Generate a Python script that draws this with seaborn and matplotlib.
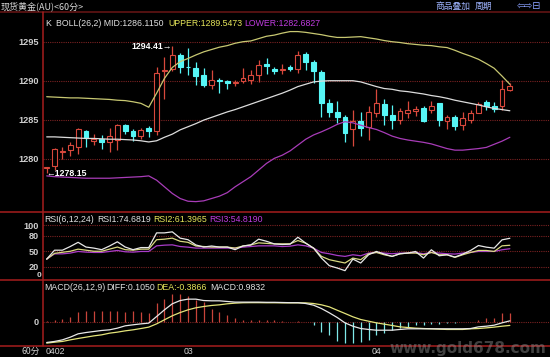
import numpy as np
import pandas as pd
import seaborn as sns
import matplotlib
matplotlib.use("Agg")
import matplotlib.pyplot as plt
from matplotlib.lines import Line2D
import matplotlib.transforms as mtransforms

# ---------------- data ----------------
idx = list(range(1, 61))
opens = [1278.8, 1279.06, 1280.8, 1281.1, 1281.54, 1283.6, 1282.3, 1282.55, 1282.2, 1282.4,
         1284.3, 1283.6, 1282.9, 1283.95, 1283.5, 1291.2, 1291.45, 1293.3, 1291.8, 1291.6,
         1290.7, 1289.4, 1290.1, 1290.0, 1289.7, 1290.0, 1290.1, 1290.7, 1292.2, 1291.5,
         1291.4, 1291.8, 1291.45, 1293.4, 1292.4, 1291.15, 1287.2, 1286.0, 1285.3, 1283.8,
         1284.9, 1284.1, 1285.9, 1287.0, 1285.6, 1285.0, 1285.9, 1286.15, 1286.45, 1286.25,
         1287.1, 1284.9, 1285.3, 1284.3, 1285.0, 1285.9, 1287.25, 1286.75, 1286.75, 1288.8]
highs = [1279.0, 1281.4, 1281.5, 1282.2, 1283.9, 1283.7, 1283.2, 1283.0, 1283.9, 1284.4,
         1284.5, 1283.8, 1284.0, 1284.2, 1291.7, 1293.1, 1294.41, 1293.5, 1294.2, 1292.4,
         1291.6, 1291.4, 1290.3, 1290.1, 1290.1, 1291.6, 1291.4, 1292.7, 1292.9, 1291.8,
         1292.1, 1292.0, 1293.85, 1293.7, 1292.6, 1291.4, 1287.7, 1287.4, 1285.6, 1286.2,
         1286.0, 1286.75, 1288.9, 1287.6, 1286.9, 1286.45, 1287.4, 1286.75, 1286.7, 1287.4,
         1287.1, 1285.6, 1285.6, 1286.0, 1286.2, 1287.3, 1287.5, 1287.25, 1290.1, 1289.65]
lows = [1278.15, 1278.5, 1280.0, 1280.3, 1280.6, 1281.5, 1281.8, 1281.3, 1280.9, 1281.1,
        1283.2, 1282.3, 1282.5, 1282.8, 1283.0, 1287.7, 1291.2, 1291.0, 1290.7, 1289.4,
        1289.2, 1288.9, 1288.4, 1289.0, 1289.3, 1289.7, 1289.6, 1289.9, 1290.9, 1290.9,
        1290.9, 1291.2, 1291.0, 1291.4, 1289.7, 1285.3, 1285.3, 1284.6, 1282.1, 1281.6,
        1282.9, 1282.4, 1285.4, 1284.3, 1283.8, 1284.4, 1285.2, 1285.5, 1284.7, 1285.8,
        1284.2, 1283.8, 1283.7, 1283.7, 1284.6, 1285.85, 1286.3, 1286.0, 1286.3, 1288.7]
closes = [1278.9, 1281.24, 1281.0, 1281.75, 1283.76, 1282.6, 1282.5, 1282.2, 1282.9, 1284.3,
          1283.5, 1282.9, 1283.7, 1283.5, 1291.0, 1291.4, 1293.3, 1291.8, 1291.7, 1290.6,
          1289.4, 1290.1, 1290.0, 1289.7, 1289.8, 1290.4, 1290.7, 1292.0, 1291.9, 1291.2,
          1291.5, 1291.5, 1293.3, 1292.4, 1291.3, 1287.2, 1286.0, 1285.3, 1283.25, 1284.9,
          1283.9, 1286.0, 1287.1, 1285.6, 1285.0, 1286.1, 1286.25, 1286.4, 1284.9, 1286.75,
          1285.0, 1285.3, 1284.2, 1285.2, 1285.8, 1287.0, 1286.7, 1286.4, 1288.9, 1289.3]

boll_upper = [1287.95, 1287.9, 1287.85, 1287.8, 1287.8, 1287.75, 1287.7, 1287.65, 1287.6, 1287.5,
              1287.45, 1287.3, 1287.1, 1286.6, 1288.4, 1290.3, 1291.7, 1292.45, 1292.85, 1293.3,
              1293.7, 1294.0, 1294.3, 1294.5, 1294.8, 1295.0, 1295.1, 1295.4, 1295.7, 1295.85,
              1296.1, 1296.3, 1296.3, 1296.2, 1296.05, 1295.9, 1295.7, 1295.55, 1295.55, 1295.6,
              1295.65, 1295.5, 1295.35, 1295.15, 1295.0, 1294.9, 1294.75, 1294.65, 1294.55, 1294.5,
              1294.35, 1294.25, 1293.9, 1293.5, 1293.15, 1292.75, 1292.2, 1291.6, 1290.6, 1289.55]
boll_mid = [1282.8, 1282.8, 1282.75, 1282.7, 1282.65, 1282.6, 1282.6, 1282.55, 1282.5, 1282.5,
            1282.45, 1282.4, 1282.3, 1282.15, 1282.3, 1282.75, 1283.15, 1283.7, 1284.1, 1284.5,
            1284.95, 1285.3, 1285.65, 1286.0, 1286.3, 1286.65, 1287.0, 1287.35, 1287.7, 1288.05,
            1288.4, 1288.8, 1289.25, 1289.55, 1289.85, 1289.95, 1290.0, 1290.0, 1290.0, 1290.0,
            1289.85, 1289.55, 1289.25, 1289.0, 1288.9, 1288.7, 1288.6, 1288.45, 1288.3, 1288.1,
            1287.95, 1287.75, 1287.5, 1287.3, 1287.1, 1286.9, 1286.65, 1286.45, 1286.3, 1286.15]
boll_lower = [1277.8, 1277.7, 1277.65, 1277.6, 1277.55, 1277.5, 1277.5, 1277.5, 1277.5, 1277.55,
              1277.6, 1277.65, 1277.7, 1277.8, 1277.25, 1276.4, 1275.55, 1274.9, 1274.55, 1274.5,
              1274.6, 1274.9, 1275.2, 1275.65, 1276.4, 1277.05, 1277.7, 1278.55, 1279.4, 1280.05,
              1280.45, 1281.0, 1281.75, 1282.5, 1283.05, 1283.45, 1283.9, 1284.4, 1284.75, 1284.6,
              1284.3, 1284.0, 1283.75, 1283.35, 1282.9, 1282.6, 1282.4, 1282.25, 1282.1, 1281.9,
              1281.6, 1281.3, 1281.1, 1281.1, 1281.2, 1281.3, 1281.45, 1281.85, 1282.25, 1282.75]

rsi1 = [35, 52, 52, 59, 67, 58, 56, 53, 60, 68, 58, 53, 57, 57, 85, 85, 87, 75, 72, 62,
        58, 60, 58, 58, 53, 60, 62, 73, 69, 64, 62.8, 63.5, 76.7, 65.4, 55.9, 37, 22.5, 18.1, 13, 35.1,
        27.6, 43.3, 49.6, 44.6, 40.2, 45.2, 46.5, 49.6, 37, 52.8, 41.4, 43.3, 38.9, 44.6, 51.5, 60.9,
        57.8, 55.9, 71.7, 74.7]
rsi2 = [35, 46, 48, 50, 54, 52, 50, 50, 54, 58, 53, 52, 54, 54, 72, 73, 75, 69, 67, 60,
        59, 58, 58, 58, 56, 60, 62, 66, 65, 64, 64.1, 64.1, 70.4, 65.4, 55.9, 40.2, 33.9, 30.7, 27.6, 37,
        33.9, 45.2, 47.7, 43.3, 40.2, 45.2, 46.5, 46.5, 43.3, 47.7, 43.3, 43.3, 38.3, 43.3, 47.7, 51.5,
        51.5, 49.6, 60.3, 61.4]
rsi3 = [35, 45, 45, 46.5, 49.6, 48.3, 47.7, 47.7, 49.6, 51.5, 49, 48.3, 49.6, 49.6, 60.3, 61.6, 62.2,
        59, 57.8, 56, 56, 56, 56, 56, 56, 57.8, 59, 60.3, 60.3, 60.3, 59, 59.7, 62.2, 60.3, 55.9, 47.7,
        45.2, 42, 40.2, 43.3, 41.4, 46.5, 47.7, 46.5, 45.2, 46.5, 46.5, 47.7, 45.2, 47.7, 46.5, 45.2,
        44.6, 46.5, 47.7, 49.6, 49.6, 49.6, 52.8, 54.8]

macd_diff = [-2.22, -2.11, -1.94, -1.65, -1.29, -1.15, -1.04, -0.93, -0.86, -0.68,
             -0.43, -0.32, -0.22, -0.14, 0.57, 1.29, 1.94, 2.29, 2.44, 2.44,
             2.29, 2.26, 2.26, 2.19, 2.12, 2.12, 2.12, 2.12, 2.1, 2.1,
             2.08, 2.06, 2.06, 1.97, 1.79, 1.43, 0.97, 0.47, -0.11, -0.47,
             -0.72, -0.82, -0.90, -0.90, -0.90, -0.82, -0.75, -0.75, -0.75, -0.75,
             -0.75, -0.75, -0.75, -0.75, -0.72, -0.54, -0.47, -0.36, -0.11, 0.105]
macd_dea = [-2.29, -2.19, -2.11, -1.94, -1.79, -1.65, -1.51, -1.40, -1.22, -1.11,
            -0.97, -0.86, -0.72, -0.57, -0.22, 0.22, 0.65, 1.0, 1.29, 1.51,
            1.65, 1.76, 1.83, 1.94, 2.01, 2.05, 2.06, 2.06, 2.05, 2.05,
            2.04, 2.04, 2.04, 2.04, 1.97, 1.83, 1.61, 1.25, 0.90, 0.54,
            0.25, 0.07, -0.11, -0.25, -0.39, -0.54, -0.61, -0.68, -0.72, -0.75,
            -0.79, -0.82, -0.82, -0.82, -0.75, -0.72, -0.65, -0.57, -0.47, -0.387]
macd_hist = [0.05, 0.15, 0.3, 0.55, 1.1, 1.2, 1.2, 1.2, 1.2, 1.2,
             1.1, 1.2, 1.1, 1.0, 2.0, 2.5, 3.0, 3.0, 2.8, 2.4,
             2.1, 1.4, 1.1, 0.75, 0.4, 0.2, 0.15, 0.2, 0.15, 0.15,
             0.05, 0.03, 0.05, -0.02, -0.35, -1.1, -1.45, -2.05, -2.3, -2.3,
             -2.15, -2.0, -1.45, -1.25, -0.9, -0.7, -0.55, -0.35, -0.3, -0.2,
             -0.2, -0.1, -0.1, -0.05, 0.0, 0.25, 0.45, 0.45, 0.9, 0.98]

price_ticks = [1280, 1285, 1290, 1295]
rsi_ticks = [20, 50, 80, 100]
date_labels = ["0402", "03", "04"]
date_pos = [1, 19, 43]

# ---------------- style ----------------
sns.set_theme(style="dark", rc={"axes.facecolor": "black", "figure.facecolor": "black"})
plt.rcParams['font.family'] = ['Liberation Sans', 'Noto Sans CJK SC', 'DejaVu Sans']

RED = "#d8483c"
CYAN = "#56f6f6"
BORDER = "#a61e1e"
GRID = "#7a2222"
TXT = "#cfcfcf"
YEL = "#e6e65a"
MAG = "#c03ce0"

W, H = 550, 357
fig = plt.figure(figsize=(5.5, 3.57), dpi=100, facecolor="black")
def fx(x): return x / W
def fy(y): return 1 - y / H

X0 = 43
def make_ax(top, bottom):
    ax = fig.add_axes([fx(X0), fy(bottom), (W - X0) / W, (bottom - top) / H])
    ax.set_facecolor("black")
    for s in ax.spines.values():
        s.set_visible(False)
    ax.set_xlim(1 - (46.7 - X0) / 7.85, 1 + (W - 46.7) / 7.85)
    ax.set_xticks([])
    ax.tick_params(axis="y", colors=TXT, labelsize=6.6, length=0, pad=3)
    return ax

ax_m = make_ax(12, 212)
ax_r = make_ax(212, 280)
ax_d = make_ax(280, 346)

# ---------------- main price panel ----------------
ax_m.set_ylim(1273.17, 1298.81)
ax_m.set_yticks(price_ticks)
ax_m.set_yticklabels([str(t) for t in price_ticks], fontweight="bold")
for t in price_ticks:
    ax_m.axhline(t, color=GRID, lw=0.8, ls=(0, (1, 1)), zorder=0)

df = pd.DataFrame({"i": idx, "o": opens, "h": highs, "l": lows, "c": closes,
                   "up": boll_upper, "mid": boll_mid, "lo": boll_lower})
up_mask = df["c"] >= df["o"]
cols = np.where(up_mask, RED, CYAN)
ax_m.vlines(df["i"], df["l"], df["h"], colors=cols, lw=0.9, zorder=2)
body_bot = np.minimum(df["o"], df["c"])
body_h = np.maximum(np.abs(df["c"] - df["o"]), 0.02)
ax_m.bar(df["i"][up_mask], body_h[up_mask], bottom=body_bot[up_mask], width=0.62,
         facecolor="black", edgecolor=RED, linewidth=0.8, zorder=3)
ax_m.bar(df["i"][~up_mask], body_h[~up_mask], bottom=body_bot[~up_mask], width=0.62,
         facecolor=CYAN, edgecolor=CYAN, linewidth=0.8, zorder=3)

sns.lineplot(data=df, x="i", y="up", ax=ax_m, color="#c8c872", lw=0.9, zorder=4)
sns.lineplot(data=df, x="i", y="mid", ax=ax_m, color="#dcdcdc", lw=0.9, zorder=4)
sns.lineplot(data=df, x="i", y="lo", ax=ax_m, color="#a83cb8", lw=0.9, zorder=4)
ax_m.set_xlabel(""); ax_m.set_ylabel("")

hi_i = int(np.argmax(highs))
lo_i = int(np.argmin(lows))
ax_m.text(idx[hi_i] - 0.05, highs[hi_i], f"{highs[hi_i]:.2f}\u2192", color="white",
          fontsize=6.3, fontweight="bold", ha="right", va="center", zorder=6)
ax_m.text(idx[lo_i], lows[lo_i] - 0.05, f"\u2190{lows[lo_i]:.2f}", color="white",
          fontsize=6.3, fontweight="bold", ha="left", va="center", zorder=6)

# ---------------- RSI panel ----------------
ax_r.set_ylim(-4.8, 124.8)
ax_r.set_yticks(rsi_ticks)
ax_r.set_yticklabels([str(t) for t in rsi_ticks], fontweight="bold")
for t in rsi_ticks:
    ax_r.axhline(t, color=GRID, lw=0.8, ls=(0, (1, 1)), zorder=0)
rdf = pd.DataFrame({"i": idx, "r1": rsi1, "r2": rsi2, "r3": rsi3})
sns.lineplot(data=rdf, x="i", y="r3", ax=ax_r, color="#a83cc8", lw=0.9)
sns.lineplot(data=rdf, x="i", y="r2", ax=ax_r, color="#d8d880", lw=0.9)
sns.lineplot(data=rdf, x="i", y="r1", ax=ax_r, color="#e8e8e8", lw=0.9)
ax_r.set_xlabel(""); ax_r.set_ylabel("")

# ---------------- MACD panel ----------------
ax_d.set_ylim(-2.6, 4.5)
ax_d.set_yticks([0])
ax_d.set_yticklabels(["0"], fontweight="bold")
ax_d.axhline(0, color=GRID, lw=0.8, ls=(0, (1, 1)), zorder=0)
mdf = pd.DataFrame({"i": idx, "diff": macd_diff, "dea": macd_dea, "hist": macd_hist})
hcols = np.where(mdf["hist"] >= 0, "#c8443a", "#7ee8e8")
ax_d.vlines(mdf["i"], 0, mdf["hist"], colors=hcols, lw=0.9, zorder=1)
sns.lineplot(data=mdf, x="i", y="dea", ax=ax_d, color="#e4e47a", lw=0.9, zorder=3)
sns.lineplot(data=mdf, x="i", y="diff", ax=ax_d, color="#e8e8e8", lw=0.9, zorder=3)
ax_d.set_xlabel(""); ax_d.set_ylabel("")

# ---------------- borders ----------------
for yy, c in [(12, "#6a1616"), (212, BORDER), (280, BORDER), (346, BORDER)]:
    fig.add_artist(Line2D([0, 1], [fy(yy), fy(yy)], transform=fig.transFigure, color=c, lw=1.1))
fig.add_artist(Line2D([fx(X0), fx(X0)], [fy(12), fy(346)], transform=fig.transFigure, color=BORDER, lw=1.1))

# ---------------- texts ----------------
FS = 6.3
fig.text(fx(1), fy(6), "现货黄金(AU)<60分>", color="#d8d8d8", fontsize=6.5,
         family=["Noto Sans CJK SC", "DejaVu Sans"], va="center", ha="left")
fig.text(fx(435), fy(6), "商品叠加", color="#9fb4ff", fontsize=6.3,
         family=["Noto Sans CJK SC", "DejaVu Sans"], va="center", ha="left")
fig.text(fx(475), fy(6), "周期", color="#9fb4ff", fontsize=6.3,
         family=["Noto Sans CJK SC", "DejaVu Sans"], va="center", ha="left")
fig.text(fx(517), fy(6), "\u21e6\u21e8\u229f", color="#8aa0ff", fontsize=7,
         family=["DejaVu Sans"], va="center", ha="left")

def label_row(y, parts):
    for x, s, c in parts:
        fig.text(fx(x), fy(y), s, color=c, fontsize=FS, va="center", ha="left")

label_row(23, [(45, "K", "#e8e8e8"), (56, "BOLL(26,2) MID:1286.1150", "#e0e0e0"),
               (168, "UPPER:1289.5473", YEL), (244, "LOWER:1282.6827", MAG)])
label_row(220, [(44.5, "RSI(6,12,24)", "#e0e0e0"), (97, "RSI1:74.6819", "#e0e0e0"),
                (153, "RSI2:61.3965", YEL), (209, "RSI3:54.8190", MAG)])
label_row(288, [(44.5, "MACD(26,12,9)", "#e0e0e0"), (106, "DIFF:0.1050", "#e0e0e0"),
                (156, "DEA:-0.3866", YEL), (210, "MACD:0.9832", "#e0e0e0")])

fig.text(fx(41), fy(275.5), "0", color=TXT, fontsize=6.0, fontweight="bold", va="center", ha="right")
fig.text(fx(40), fy(351.5), "60分", color=TXT, fontsize=6.3,
         family=["Noto Sans CJK SC", "DejaVu Sans"], va="center", ha="right")

trans = mtransforms.blended_transform_factory(ax_d.transData, fig.transFigure)
for lab, p in zip(date_labels, date_pos):
    ha = "left" if p == date_pos[0] else "center"
    fig.text(p if ha == "center" else p - 0.1, fy(351.5), lab, transform=trans, color=TXT,
             fontsize=6.3, va="center", ha=ha)

fig.text(fx(468), fy(349), "www.gold678.com", color="#909090", alpha=0.45, fontsize=11,
         fontweight="bold", family=["DejaVu Sans"], va="center", ha="center", zorder=10)

fig.savefig("out.png", dpi=100, facecolor="black")
